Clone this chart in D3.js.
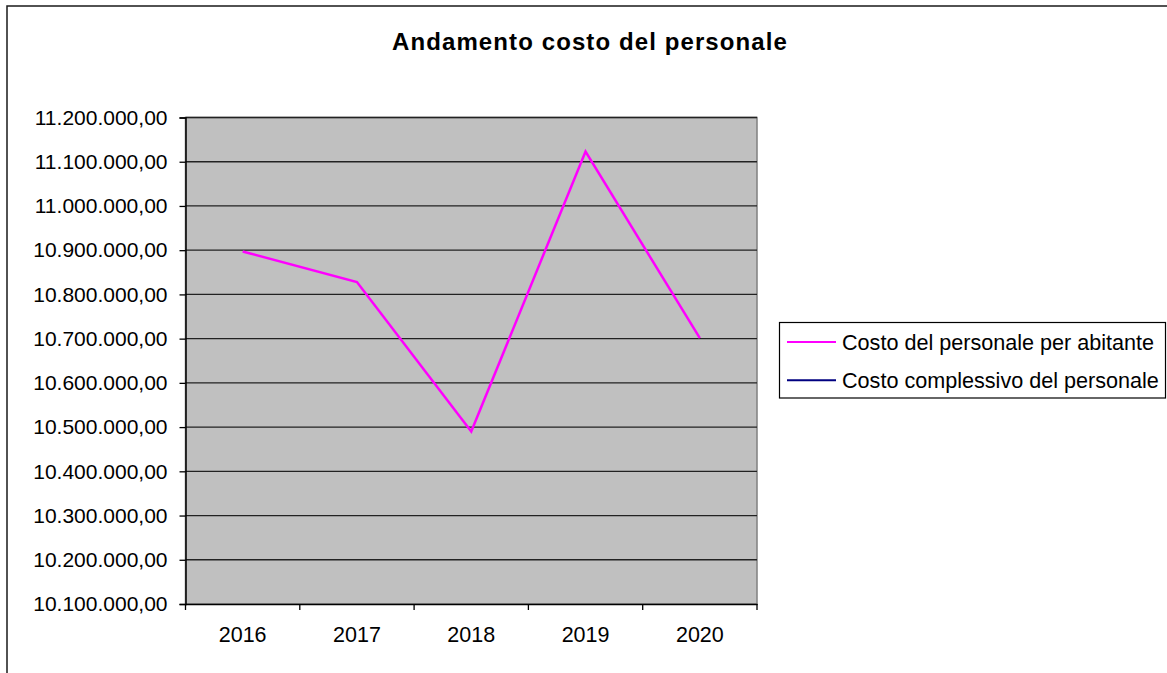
<!DOCTYPE html>
<html><head><meta charset="utf-8">
<script src="https://cdn.jsdelivr.net/npm/d3@7"></script>
<style>html,body{margin:0;padding:0;background:#fff;}svg{display:block;font-family:"Liberation Sans",Arial,sans-serif;}</style>
</head><body><svg id="c" width="1167" height="673"></svg>
<script>
const categories = ["2016","2017","2018","2019","2020"];
const perAbitante = [10897000, 10828000, 10490000, 11123000, 10701000];
const complessivo = [null, null, null, null, null];
const yTicks = [10100000,10200000,10300000,10400000,10500000,10600000,10700000,10800000,10900000,11000000,11100000,11200000];
const seriesNames = ["Costo del personale per abitante","Costo complessivo del personale"];
const seriesColors = ["#ff00ff","#000080"];
const title = "Andamento costo del personale";

const svg = d3.select("#c");
const m = {left:185.5, top:117.5, right:757, bottom:604};
const x = d3.scaleBand().domain(categories).range([m.left, m.right]);
const y = d3.scaleLinear().domain([10100000, 11200000]).range([m.bottom, m.top]);
const fmt = v => d3.format(",.2f")(v).replace(/,/g,"#").replace(/\./g,",").replace(/#/g,".");

// outer frame
svg.append("rect").attr("x",7).attr("y",6).attr("width",1200).attr("height",700)
  .attr("fill","none").attr("stroke","#1a1a1a").attr("stroke-width",1.5);

svg.append("text").attr("x",590).attr("y",49.5).attr("text-anchor","middle")
  .attr("font-size",24).attr("font-weight","bold").attr("letter-spacing",1.1).attr("fill","#000").text(title);

// plot area
svg.append("rect").attr("x",m.left).attr("y",m.top).attr("width",m.right-m.left).attr("height",m.bottom-m.top)
  .attr("fill","#c0c0c0").attr("stroke","#808080").attr("stroke-width",1.5);

// gridlines
svg.append("g").selectAll("line").data(yTicks.slice(1)).join("line")
  .attr("x1",m.left).attr("x2",m.right).attr("y1",d=>y(d)).attr("y2",d=>y(d))
  .attr("stroke","#222").attr("stroke-width",1.3);

// y axis
const ya = svg.append("g").attr("transform",`translate(${m.left},0)`)
  .call(d3.axisLeft(y).tickValues(yTicks).tickFormat(fmt).tickSize(6).tickPadding(12));
ya.select(".domain").attr("stroke","#000").attr("stroke-width",1.5);
ya.selectAll(".tick line").attr("stroke","#000").attr("stroke-width",1.3);
ya.selectAll(".tick text").attr("font-size",21).attr("fill","#000").attr("font-family","Liberation Sans, Arial, sans-serif");

// x axis
const xa = svg.append("g").attr("transform",`translate(0,${m.bottom})`)
  .call(d3.axisBottom(x).tickSize(0).tickPadding(23));
xa.select(".domain").attr("stroke","#000").attr("stroke-width",1.5);
xa.selectAll(".tick text").attr("font-size",21.5).attr("fill","#000").attr("font-family","Liberation Sans, Arial, sans-serif");
const bounds = categories.map(c=>x(c)).concat([x(categories[categories.length-1])+x.bandwidth()]);
xa.append("g").selectAll("line").data(bounds).join("line")
  .attr("x1",d=>d).attr("x2",d=>d).attr("y1",0).attr("y2",6).attr("stroke","#000").attr("stroke-width",1.3);

// lines
const line = d3.line().defined(d=>d.v!=null).x(d=>x(d.c)+x.bandwidth()/2).y(d=>y(d.v));
[perAbitante, complessivo].forEach((s,i)=>{
  svg.append("path").datum(categories.map((c,j)=>({c, v:s[j]})))
    .attr("d",line).attr("fill","none").attr("stroke",seriesColors[i]).attr("stroke-width",2.5);
});

// legend
const lg = svg.append("g");
lg.append("rect").attr("x",779.5).attr("y",322.5).attr("width",386).attr("height",75.5)
  .attr("fill","#fff").attr("stroke","#000").attr("stroke-width",1.2);
seriesNames.forEach((n,i)=>{
  const yy = 342 + i*38.3;
  lg.append("line").attr("x1",787).attr("x2",836).attr("y1",yy).attr("y2",yy)
    .attr("stroke",seriesColors[i]).attr("stroke-width",2);
  lg.append("text").attr("x",842).attr("y",yy+7.5).attr("font-size",21.6).attr("fill","#000").text(n);
});
</script></body></html>
